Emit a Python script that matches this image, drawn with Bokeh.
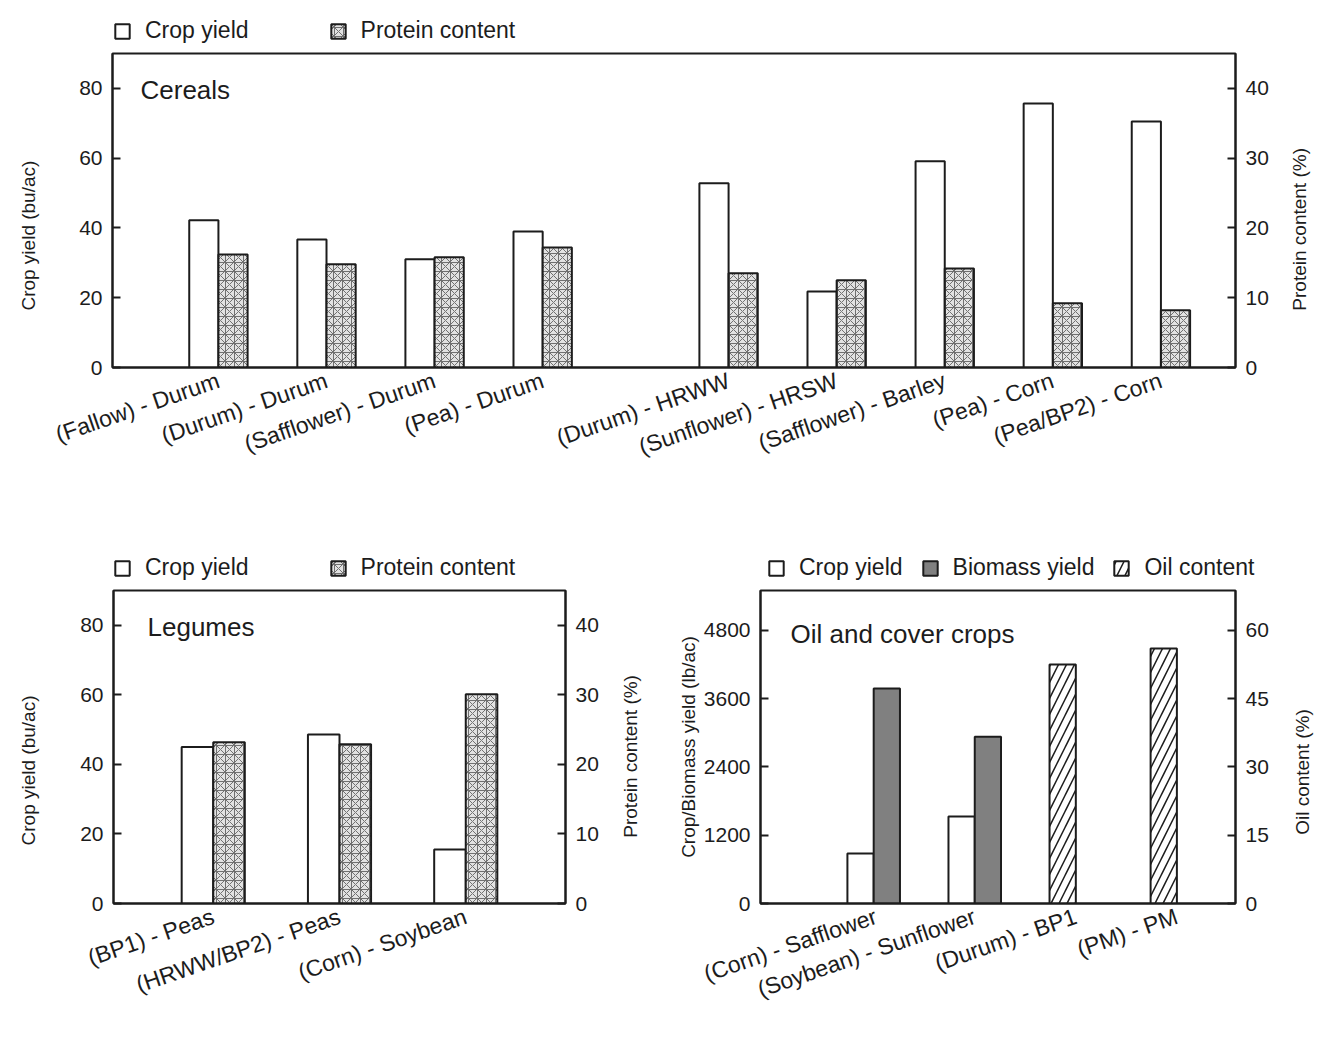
import math
import numpy as np
from bokeh.plotting import figure
from bokeh.models import Range1d, LinearAxis, FixedTicker, Legend, LegendItem, Label, ColumnDataSource
from bokeh.transform import dodge
from bokeh.layouts import column, row
from bokeh.embed import file_html
from bokeh.resources import INLINE

# ---------------- data ----------------
cereal_rotations = ["(Fallow) - Durum", "(Durum) - Durum", "(Safflower) - Durum", "(Pea) - Durum",
                    "(Durum) - HRWW", "(Sunflower) - HRSW", "(Safflower) - Barley", "(Pea) - Corn",
                    "(Pea/BP2) - Corn"]
cereal_group = [1, 1, 1, 1, 2, 2, 2, 2, 2]
cereal_yield = [42.2, 36.7, 31.0, 39.0, 52.8, 21.8, 59.1, 75.7, 70.5]      # bu/ac
cereal_protein = [16.2, 14.8, 15.8, 17.2, 13.5, 12.5, 14.2, 9.2, 8.2]      # %

legume_rotations = ["(BP1) - Peas", "(HRWW/BP2) - Peas", "(Corn) - Soybean"]
legume_yield = [45.0, 48.6, 15.5]      # bu/ac
legume_protein = [23.2, 22.9, 30.1]    # %

oil_rotations = ["(Corn) - Safflower", "(Soybean) - Sunflower", "(Durum) - BP1", "(PM) - PM"]
oil_crop_yield = [880, 1530, None, None]      # lb/ac
oil_biomass_yield = [3780, 2930, None, None]  # lb/ac
oil_content = [None, None, 52.5, 56.0]        # %

# ---------------- style ----------------
FONT = "Liberation Sans"
INK = "#1c1c1c"
TICK_FS = "21px"
AXLAB_FS = "19px"
CAT_FS = "23px"
LEG_FS = "23px"
TITLE_FS = "26px"
CAT_ANGLE = math.radians(19)
GAP = 0.72
W = 0.27

BAR = dict(line_color=INK, line_width=2)
WHITE = dict(fill_color="white", **BAR)
PROT = dict(fill_color="#e2e2e2", hatch_pattern="criss_cross", hatch_color="#707070",
            hatch_scale=9, hatch_weight=1, **BAR)
GREY = dict(fill_color="#808080", **BAR)
OIL = dict(fill_color="white", hatch_pattern="right_diagonal_line", hatch_color=INK,
           hatch_scale=16, hatch_weight=1.5, **BAR)


def nan(v):
    return [np.nan if x is None else x for x in v]


def make_fig(width, height, xr, y_end, y2_end, mbl, mbr, mbt, mbb):
    p = figure(width=width, height=height, x_range=xr, y_range=Range1d(0, y_end),
               output_backend="svg", toolbar_location=None,
               min_border_left=mbl, min_border_right=mbr, min_border_top=mbt, min_border_bottom=mbb)
    p.extra_y_ranges = {"right": Range1d(0, y2_end)}
    p.xgrid.visible = False
    p.ygrid.visible = False
    p.outline_line_color = INK
    p.outline_line_width = 2
    p.outline_line_alpha = 1
    p.background_fill_color = "white"
    p.border_fill_color = "white"
    return p


def style_axis(ax, ticks):
    ax.ticker = FixedTicker(ticks=ticks)
    ax.major_label_text_font = FONT
    ax.major_label_text_font_size = TICK_FS
    ax.major_label_text_color = INK
    ax.major_label_standoff = 10
    ax.major_tick_in = 8
    ax.major_tick_out = 0
    ax.minor_tick_line_color = None
    ax.axis_line_color = INK
    ax.axis_line_width = 2
    ax.major_tick_line_color = INK
    ax.major_tick_line_width = 2


def setup_axes(p, xpos, xlabels, lticks, rticks):
    style_axis(p.yaxis[0], lticks)
    rax = LinearAxis(y_range_name="right")
    style_axis(rax, rticks)
    p.add_layout(rax, "right")
    xa = p.xaxis[0]
    xa.ticker = FixedTicker(ticks=list(xpos))
    xa.major_label_overrides = {float(x): lab for x, lab in zip(xpos, xlabels)}
    xa.major_label_orientation = CAT_ANGLE
    xa.major_label_text_font = FONT
    xa.major_label_text_font_size = CAT_FS
    xa.major_label_text_color = INK
    xa.major_label_standoff = 6
    xa.major_tick_line_color = None
    xa.minor_tick_line_color = None
    xa.axis_line_color = INK
    xa.axis_line_width = 2


def legend_fig(width, height, mbl, source, specs, vx, vy, spacing, fs=LEG_FS, standoff=14):
    # legend-only strip placed above a plot
    f = figure(width=width, height=height, x_range=Range1d(-1000, -999), y_range=Range1d(-1000, -999),
               output_backend="svg", toolbar_location=None,
               x_axis_location=None, y_axis_location=None,
               min_border_left=mbl, min_border_right=0, min_border_top=0, min_border_bottom=0)
    f.xgrid.visible = False
    f.ygrid.visible = False
    f.outline_line_color = None
    items = []
    for label, col, kw in specs:
        r = f.vbar(x="x", top=col, width=0.1, source=source, visible=False, **kw)
        items.append(LegendItem(label=label, renderers=[r]))
    leg = Legend(items=items, orientation="horizontal", location=(vx, vy), spacing=spacing,
                 padding=0, margin=0, glyph_width=18, glyph_height=18, label_standoff=standoff,
                 label_text_font=FONT, label_text_font_size=fs, label_text_color=INK,
                 background_fill_alpha=0, border_line_alpha=0, inactive_fill_alpha=0)
    f.add_layout(leg, "center")
    return f


def side_label_fig(width, height, mbt, mbb, text, fx, fy):
    # vertical axis title, reading bottom to top like the reference
    f = figure(width=width, height=height, x_range=Range1d(0, 1), y_range=Range1d(0, 1),
               output_backend="svg", toolbar_location=None,
               x_axis_location=None, y_axis_location=None,
               min_border_left=0, min_border_right=0, min_border_top=mbt, min_border_bottom=mbb)
    f.xgrid.visible = False
    f.ygrid.visible = False
    f.outline_line_color = None
    f.add_layout(Label(x=fx, y=fy, text=text, angle=math.pi / 2, text_align="center",
                       text_baseline="middle", text_font=FONT, text_font_size=AXLAB_FS,
                       text_color=INK))
    return f


def add_title(p, text, x, y):
    p.add_layout(Label(x=x, y=y, x_units="screen", y_units="screen", text=text,
                       text_font=FONT, text_font_size=TITLE_FS, text_color=INK,
                       text_baseline="middle"))


# ---------------- Cereals ----------------
cx = np.arange(len(cereal_rotations)) + GAP * (np.array(cereal_group) - 1)
src1 = ColumnDataSource(dict(x=cx, y=cereal_yield, p=cereal_protein))
p1 = make_fig(1245, 467, Range1d(-0.98, cx[-1] + 0.69), 90, 45, 72, 50, 3, 150)
p1.vbar(x=dodge("x", -W / 2, range=p1.x_range), top="y", width=W, source=src1, **WHITE)
p1.vbar(x=dodge("x", W / 2, range=p1.x_range), top="p", width=W, source=src1,
        y_range_name="right", **PROT)
setup_axes(p1, cx, cereal_rotations, [0, 20, 40, 60, 80], [0, 10, 20, 30, 40])
add_title(p1, "Cereals", 28, 278)
l1 = legend_fig(1245, 50, 72, src1, [("Crop yield", "y", WHITE), ("Protein content", "p", PROT)],
                1, 6, 80)
tl1 = side_label_fig(40, 517, 53, 150, "Crop yield (bu/ac)", 0.7, 0.42)
tr1 = side_label_fig(32, 517, 53, 150, "Protein content (%)", 0.45, 0.44)

# ---------------- Legumes ----------------
lx = np.arange(len(legume_rotations))
W2 = 0.25
src2 = ColumnDataSource(dict(x=lx, y=legume_yield, p=legume_protein))
p2 = make_fig(575, 460, Range1d(-0.79, 2.79), 90, 45, 73, 50, 3, 144)
p2.vbar(x=dodge("x", -W2 / 2, range=p2.x_range), top="y", width=W2, source=src2, **WHITE)
p2.vbar(x=dodge("x", W2 / 2, range=p2.x_range), top="p", width=W2, source=src2,
        y_range_name="right", **PROT)
setup_axes(p2, lx, legume_rotations, [0, 20, 40, 60, 80], [0, 10, 20, 30, 40])
add_title(p2, "Legumes", 34, 277)
l2 = legend_fig(615, 70, 113, src2, [("Crop yield", "y", WHITE), ("Protein content", "p", PROT)],
                0, 6, 80)
tl2 = side_label_fig(40, 460, 3, 144, "Crop yield (bu/ac)", 0.7, 0.425)
tr2 = side_label_fig(30, 460, 3, 144, "Protein content (%)", 0.5, 0.47)

# ---------------- Oil and cover crops ----------------
ox = np.arange(len(oil_rotations))
W3 = 0.26
src3 = ColumnDataSource(dict(x=ox, c=nan(oil_crop_yield), b=nan(oil_biomass_yield), o=nan(oil_content)))
p3 = make_fig(587, 460, Range1d(-1.12, 3.58), 5500, 68.75, 60, 52, 3, 144)
p3.vbar(x=dodge("x", -W3 / 2, range=p3.x_range), top="c", width=W3, source=src3, **WHITE)
p3.vbar(x=dodge("x", W3 / 2, range=p3.x_range), top="b", width=W3, source=src3, **GREY)
p3.vbar(x=dodge("x", -W3 / 2, range=p3.x_range), top="o", width=W3, source=src3,
        y_range_name="right", **OIL)
setup_axes(p3, ox, oil_rotations, [0, 1200, 2400, 3600, 4800], [0, 15, 30, 45, 60])
add_title(p3, "Oil and cover crops", 30, 270)
l3 = legend_fig(702, 70, 145, src3, [("Crop yield", "c", WHITE), ("Biomass yield", "b", GREY),
                                     ("Oil content", "o", OIL)], 7, 6, 18)
tl3 = side_label_fig(55, 460, 3, 144, "Crop/Biomass yield (lb/ac)", 0.78, 0.5)
tr3 = side_label_fig(30, 460, 3, 144, "Oil content (%)", 0.5, 0.42)

layout = column(row(tl1, column(l1, p1), tr1),
                row(l2, l3),
                row(tl2, p2, tr2, tl3, p3, tr3))
open("out.html", "w").write(file_html(layout, INLINE))
